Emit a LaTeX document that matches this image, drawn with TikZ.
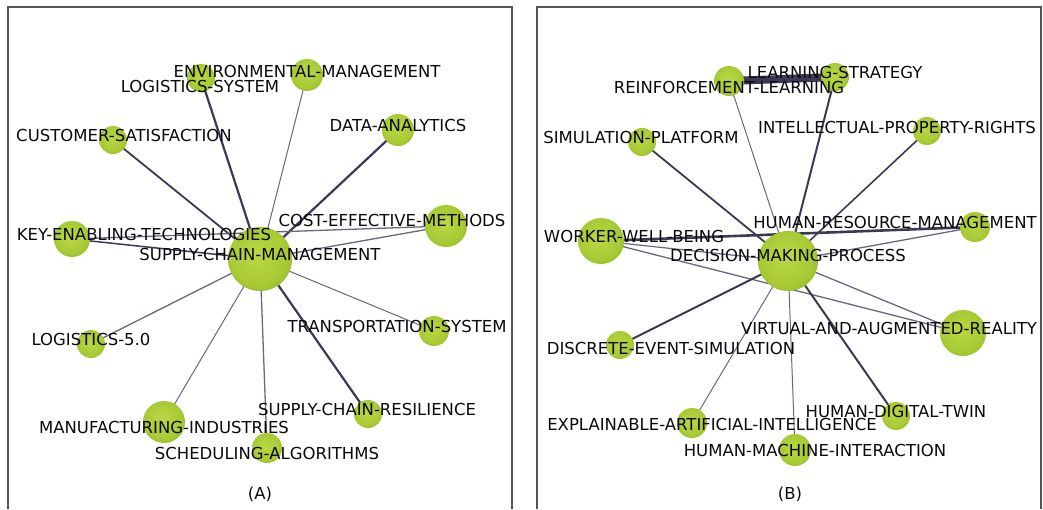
\documentclass[tikz,border=0pt]{standalone}
\usepackage{fontspec}
\setmainfont{DejaVu Sans}
\definecolor{gin}{RGB}{186,216,68}
\definecolor{gmid}{RGB}{168,202,52}
\definecolor{gout}{RGB}{122,156,34}
\definecolor{edgedark}{RGB}{62,56,84}
\definecolor{edgelight}{RGB}{106,102,126}
\definecolor{framegray}{RGB}{85,85,85}
\definecolor{labelcol}{RGB}{10,10,14}
\pgfdeclareradialshading{greenball}{\pgfpoint{-3bp}{4bp}}{color(0bp)=(gin); color(22bp)=(gmid); color(44bp)=(gout); color(50bp)=(gout)}
\pgfdeclarelayer{bg}
\pgfsetlayers{bg,main}
\tikzset{
  kw/.style={circle, inner sep=0pt, minimum size=#1, shading=greenball, draw=none},
  lbl/.style={inner sep=0pt, text=labelcol, font=\fontsize{16.5}{19}\selectfont},
  ed/.style={draw=edgedark, line width=#1},
  el/.style={draw=edgelight, line width=#1},
  frame/.style={draw=framegray, line width=1.4pt}
}
\begin{document}
\begin{tikzpicture}[x=1pt,y=-1pt]
\useasboundingbox (0,0) rectangle (1043,509);
% frames
\draw[frame] (8,509) -- (8,7) -- (512,7) -- (512,509);
\draw[frame] (537,509) -- (537,7) -- (1041,7) -- (1041,509);

% ---------- Panel A nodes ----------
\node[kw=64] (scm) at (260,259) {};
\node[kw=28] (ls) at (201,78) {};
\node[kw=32] (em) at (307,75) {};
\node[kw=32] (da) at (398,130) {};
\node[kw=28] (cs) at (113,140) {};
\node[kw=42] (cem) at (446,226) {};
\node[kw=36] (ket) at (72,239) {};
\node[kw=28] (l50) at (91,344) {};
\node[kw=42] (mi) at (164,422) {};
\node[kw=30] (sa) at (267,448) {};
\node[kw=28] (scr) at (368,414) {};
\node[kw=30] (ts) at (434,331) {};

% ---------- Panel B nodes ----------
\node[kw=30] (rl) at (729,81) {};
\node[kw=28] (lst) at (835,77) {};
\node[kw=28] (ipr) at (927,131) {};
\node[kw=28] (sp) at (642,142) {};
\node[kw=46] (wwb) at (601,241) {};
\node[kw=30] (hrm) at (975,227) {};
\node[kw=60] (dmp) at (788,261) {};
\node[kw=46] (var) at (963,333) {};
\node[kw=28] (des) at (620,345) {};
\node[kw=30] (xai) at (692,423) {};
\node[kw=32] (hmi) at (795,450) {};
\node[kw=28] (hdt) at (896,416) {};

% ---------- edges ----------
\begin{pgfonlayer}{bg}
\path[ed=2.2] (scm.center) -- (ls.center);
\path[el=1.0] (scm.center) -- (em.center);
\path[ed=2.2] (scm.center) -- (da.center);
\path[ed=1.8] (scm.center) -- (cs.center);
\path[el=1.3] (scm.center) -- (cem.center);
\path[el=1.3] (ket.center) -- (cem.center);
\path[ed=1.5] (ket.center) -- (scm.center);
\path[el=1.3] (scm.center) -- (l50.center);
\path[el=1.0] (scm.center) -- (mi.center);
\path[el=1.3] (scm.center) -- (sa.center);
\path[ed=2.2] (scm.center) -- (scr.center);
\path[el=1.0] (scm.center) -- (ts.center);

\path[ed=8] (rl.center) -- (lst.center);
\path[el=1.0] (rl.center) -- (dmp.center);
\path[ed=2.0] (lst.center) -- (dmp.center);
\path[ed=1.8] (sp.center) -- (dmp.center);
\path[ed=1.6] (ipr.center) -- (dmp.center);
\path[ed=2.6] (wwb.center) -- (hrm.center);
\path[el=1.3] (dmp.center) -- (hrm.center);
\path[el=1.2] (wwb.center) -- (dmp.center);
\path[el=1.3] (wwb.center) -- (var.center);
\path[el=1.3] (dmp.center) -- (var.center);
\path[ed=2.0] (dmp.center) -- (des.center);
\path[el=1.0] (dmp.center) -- (xai.center);
\path[el=1.0] (dmp.center) -- (hmi.center);
\path[ed=2.0] (dmp.center) -- (hdt.center);
\end{pgfonlayer}

% ---------- labels A ----------
\node[lbl] (tem) at (307,71) {ENVIRONMENTAL-MANAGEMENT};
\node[lbl] (tls) at (200,86) {LOGISTICS-SYSTEM};
\node[lbl] (tda) at (398,125) {DATA-ANALYTICS};
\node[lbl] (tcs) at (124,135) {CUSTOMER-SATISFACTION};
\node[lbl] (tcem) at (392,220) {COST-EFFECTIVE-METHODS};
\node[lbl] (tket) at (144,234) {KEY-ENABLING-TECHNOLOGIES};
\node[lbl] (tscm) at (260,254) {SUPPLY-CHAIN-MANAGEMENT};
\node[lbl] (tl50) at (91,339) {LOGISTICS-5.0};
\node[lbl] (tts) at (397,326) {TRANSPORTATION-SYSTEM};
\node[lbl] (tscr) at (367,409) {SUPPLY-CHAIN-RESILIENCE};
\node[lbl] (tmi) at (164,427) {MANUFACTURING-INDUSTRIES};
\node[lbl] (tsa) at (267,453) {SCHEDULING-ALGORITHMS};
\node[lbl] (capA) at (260,494) {(A)};

% ---------- labels B ----------
\node[lbl] (tlst) at (835,72) {LEARNING-STRATEGY};
\node[lbl] (trl) at (729,87) {REINFORCEMENT-LEARNING};
\node[lbl] (tipr) at (897,127) {INTELLECTUAL-PROPERTY-RIGHTS};
\node[lbl] (tsp) at (641,137) {SIMULATION-PLATFORM};
\node[lbl] (thrm) at (895,222) {HUMAN-RESOURCE-MANAGEMENT};
\node[lbl] (twwb) at (634,236) {WORKER-WELL-BEING};
\node[lbl] (tdmp) at (788,255) {DECISION-MAKING-PROCESS};
\node[lbl] (tvar) at (889,328) {VIRTUAL-AND-AUGMENTED-REALITY};
\node[lbl] (tdes) at (671,348) {DISCRETE-EVENT-SIMULATION};
\node[lbl] (txai) at (712,424) {EXPLAINABLE-ARTIFICIAL-INTELLIGENCE};
\node[lbl] (thdt) at (896,411) {HUMAN-DIGITAL-TWIN};
\node[lbl] (thmi) at (815,450) {HUMAN-MACHINE-INTERACTION};
\node[lbl] (capB) at (790,494) {(B)};
\end{tikzpicture}
\end{document}
